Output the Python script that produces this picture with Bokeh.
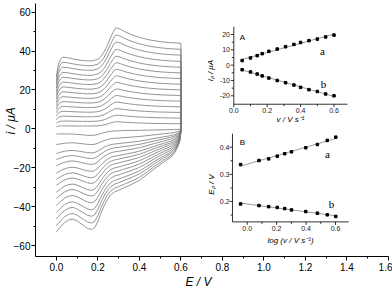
import numpy as np
from bokeh.plotting import figure
from bokeh.models import Range1d, FixedTicker, NumeralTickFormatter, Title
from bokeh.core.properties import value
from bokeh.embed import file_html
from bokeh.resources import INLINE

# ------------------------------------------------------------------ data
# Main CV: anodic branch potentials (V) and read shape of the branch
E_up = [0.000, 0.005, 0.010, 0.020, 0.030, 0.050, 0.075, 0.100, 0.125, 0.150,
        0.175, 0.200, 0.215, 0.230, 0.245, 0.260, 0.275, 0.285, 0.295, 0.310,
        0.330, 0.355, 0.380, 0.400, 0.430, 0.460, 0.500, 0.550, 0.600]
base_up = [0.72, 0.83, 0.90, 0.97, 1.00, 0.995, 0.98, 0.965, 0.955, 0.948,
           0.945, 0.945, 0.945, 0.945, 0.945, 0.945, 0.945, 0.945, 0.945, 0.945,
           0.945, 0.945, 0.945, 0.945, 0.945, 0.945, 0.945, 0.945, 0.945]
wave_up = [0, 0, 0, 0, 0, 0, 0, 0, 0, 0,
           0.01, 0.06, 0.14, 0.28, 0.47, 0.70, 0.90, 1.00, 1.00, 0.96,
           0.89, 0.82, 0.76, 0.72, 0.67, 0.63, 0.59, 0.56, 0.54]
# cathodic branch potentials (V) and read shape of the branch
E_lo = [0.600, 0.595, 0.585, 0.570, 0.550, 0.515, 0.475, 0.435, 0.400, 0.355,
        0.330, 0.300, 0.280, 0.260, 0.245, 0.230, 0.215, 0.200, 0.185, 0.170,
        0.150, 0.130, 0.100, 0.080, 0.060, 0.040, 0.020, 0.010, 0.000]
base_lo = [0.05, 0.20, 0.30, 0.40, 0.48, 0.56, 0.66, 0.77, 0.86, 0.94,
           0.97, 1.00, 1.00, 1.00, 1.00, 1.00, 1.00, 1.00, 1.00, 1.00,
           1.00, 1.00, 1.00, 1.01, 1.05, 1.12, 1.22, 1.27, 1.32]
wave_lo = [0, 0, 0, 0, 0, 0, 0, 0, 0, 0,
           0.01, 0.04, 0.08, 0.16, 0.27, 0.42, 0.60, 0.80, 0.95, 1.00,
           0.97, 0.90, 0.79, 0.73, 0.69, 0.65, 0.61, 0.60, 0.59]
# per-scan values (µA)
up_plateau = [1.5, 4.0, 6.5, 9.0, 11.5, 14.0, 16.5, 19.0, 21.5, 24.0, 26.5, 29.0, 31.7, 34.2, 36.8]
up_peak = [2.2, 3.2, 4.2, 5.2, 6.2, 7.2, 8.2, 9.2, 10.2, 11.2, 12.2, 13.4, 14.6, 15.8, 17.0]
lo_base = [0.9, 4.6, 7.4, 9.3, 11.3, 13.4, 15.2, 17.1, 19.1, 21.1, 23.1, 25.2, 27.0, 29.0, 30.8]
lo_peak = [2.5, 3.5, 5.0, 6.0, 7.0, 8.5, 10.0, 11.0, 12.5, 13.5, 15.0, 16.5, 18.0, 19.5, 21.0]

# Inset A: peak currents vs scan rate
v_A = [0.05, 0.10, 0.14, 0.17, 0.21, 0.26, 0.31, 0.36, 0.40, 0.45, 0.50, 0.55, 0.60]
ipa = [3.0, 4.7, 6.2, 7.5, 9.0, 10.5, 12.0, 13.5, 14.8, 16.0, 17.0, 18.4, 19.6]
ipc = [-3.0, -4.4, -5.8, -7.0, -8.4, -10.0, -11.5, -13.0, -14.5, -16.0, -17.2, -18.8, -20.0]
# Inset B: peak potentials vs log scan rate
logv = [-0.045, 0.080, 0.146, 0.204, 0.255, 0.301, 0.398, 0.477, 0.544, 0.602]
Epa = [0.336, 0.351, 0.357, 0.367, 0.376, 0.383, 0.398, 0.410, 0.425, 0.437]
Epc = [0.191, 0.185, 0.181, 0.178, 0.174, 0.169, 0.163, 0.157, 0.151, 0.145]

# tick values
main_xticks = [0.0, 0.2, 0.4, 0.6, 0.8, 1.0, 1.2, 1.4, 1.6]
main_xminor = [0.1, 0.3, 0.5, 0.7, 0.9, 1.1, 1.3, 1.5]
main_yticks = [-60, -40, -20, 0, 20, 40, 60]
main_yminor = [-50, -30, -10, 10, 30, 50]
A_xticks = [0.0, 0.2, 0.4, 0.6]
A_xminor = [0.1, 0.3, 0.5]
A_yticks = [-20, -10, 0, 10, 20]
A_yminor = [-15, -5, 5, 15]
B_xticks = [0.0, 0.2, 0.4, 0.6]
B_xminor = [0.1, 0.3, 0.5]
B_yticks = [0.2, 0.3, 0.4]
B_yminor = [0.15, 0.25, 0.35]

# ------------------------------------------------------------------ layout (page pixels)
FONT = "Liberation Sans"
W, H = 392, 288
FR_L, FR_R, FR_T, FR_B = 35, 388, 3, 256

def rng(v0, p0, v1, p1, lo_px, hi_px):
    s = (p1 - p0) / (v1 - v0)
    return Range1d(v0 + (lo_px - p0) / s, v0 + (hi_px - p0) / s)

def val(v0, p0, v1, p1, px):
    return v0 + (px - p0) * (v1 - v0) / (p1 - p0)

MX = (0.0, 55.9, 1.6, 388.0)
MY = (0, 128.3, -60, 245.0)
AX = (0.0, 233.3, 0.6, 333.5)
AY = (20, 34.0, -20, 95.3)
BX = (0.0, 246.7, 0.6, 335.0)
BY = (0.4, 146.7, 0.2, 201.0)

p = figure(width=W, height=H, output_backend="svg", toolbar_location=None,
           x_range=rng(*MX, FR_L, FR_R), y_range=rng(*MY, FR_B, FR_T),
           min_border_left=FR_L, min_border_right=W - FR_R,
           min_border_top=FR_T, min_border_bottom=H - FR_B)
p.extra_x_ranges = {"ax": rng(*AX, FR_L, FR_R), "bx": rng(*BX, FR_L, FR_R)}
p.extra_y_ranges = {"ay": rng(*AY, FR_B, FR_T), "by": rng(*BY, FR_B, FR_T)}
p.grid.visible = False
p.outline_line_color = None
p.background_fill_color = "white"

for ax, ticks, minor in ((p.xaxis[0], main_xticks, main_xminor), (p.yaxis[0], main_yticks, main_yminor)):
    ax.ticker = FixedTicker(ticks=ticks, minor_ticks=minor)
    ax.axis_line_color = "black"
    ax.axis_line_width = 1
    ax.major_tick_in = 0
    ax.major_tick_out = 4
    ax.minor_tick_in = 0
    ax.minor_tick_out = 2
    ax.major_label_standoff = 2
    ax.major_label_text_font = FONT
    ax.major_label_text_font_size = "10px"
    ax.major_label_text_color = "black"
p.yaxis[0].major_label_standoff = 1
p.xaxis[0].formatter = NumeralTickFormatter(format="0.0")

# axis titles (as side titles so they can sit off-centre like the original)
p.add_layout(Title(text="E / V", align="left", offset=150, standoff=-2, text_font=FONT,
                   text_font_size="12px", text_font_style="italic", text_color="black"), "below")
p.add_layout(Title(text="i / μA", align="left", offset=122, standoff=-14, text_font=FONT,
                   text_font_size="12px", text_font_style="italic", text_color="black"), "left")

# ------------------------------------------------------------------ CV curves
E_cv = E_up + E_lo
for k in range(len(up_plateau)):
    i_up = [up_plateau[k] * b + up_peak[k] * w for b, w in zip(base_up, wave_up)]
    i_lo = [-lo_base[k] * b - lo_peak[k] * w for b, w in zip(base_lo, wave_lo)]
    p.line(E_cv, i_up + i_lo, line_color="#7a7a7a", line_width=0.8)

# ------------------------------------------------------------------ insets
def inset(xr, yr, X, Y, xlim, ylim, xt, xm, yt, ym, ylabfmt, x_lab_px, y_lab_py, xs, ys_list):
    kw = dict(x_range_name=xr, y_range_name=yr)
    for ys in ys_list:
        m, c = np.polyfit(xs, ys, 1)
        p.line([xs[0], xs[-1]], [m * xs[0] + c, m * xs[-1] + c], line_color="#9a9a9a", line_width=1, **kw)
        p.scatter(xs, ys, marker="square", size=2.5, fill_color="black", line_color="black", **kw)
    p.line([xlim[0], xlim[1]], [ylim[0], ylim[0]], line_color="black", line_width=0.8, **kw)
    p.line([xlim[0], xlim[0]], [ylim[0], ylim[1]], line_color="black", line_width=0.8, **kw)
    p.ray(x=xt, y=[ylim[0]] * len(xt), length=3, length_units="screen", angle=-np.pi / 2,
          line_color="black", line_width=0.8, **kw)
    p.ray(x=xm, y=[ylim[0]] * len(xm), length=2, length_units="screen", angle=-np.pi / 2,
          line_color="black", line_width=0.8, **kw)
    p.ray(x=[xlim[0]] * len(yt), y=yt, length=3, length_units="screen", angle=np.pi,
          line_color="black", line_width=0.8, **kw)
    p.ray(x=[xlim[0]] * len(ym), y=ym, length=2, length_units="screen", angle=np.pi,
          line_color="black", line_width=0.8, **kw)
    p.text(x=xt, y=[val(*Y, x_lab_px)] * len(xt), text=["%.1f" % t for t in xt],
           text_align="center", text_baseline="middle", text_font=value(FONT),
           text_font_size=value("7px"), text_color="#222222", **kw)
    p.text(x=[val(*X, y_lab_py)] * len(yt), y=yt, text=[ylabfmt % t for t in yt],
           text_align="right", text_baseline="middle", text_font=value(FONT),
           text_font_size=value("7px"), text_color="#222222", **kw)

inset("ax", "ay", AX, AY, (0.0, 0.68), (-25.5, 25.0), A_xticks, A_xminor, A_yticks, A_yminor,
      "%d", 109.5, 229.5, v_A, [ipa, ipc])
inset("bx", "by", BX, BY, (-0.1, 0.69), (0.125, 0.45), B_xticks, B_xminor, B_yticks, B_yminor,
      "%.1f", 228.0, 229.0, logv, [Epa, Epc])

def tx(xr, yr, X, Y, px, py, s, size, font=FONT, style="normal", angle=0.0):
    p.text(x=[val(*X, px)], y=[val(*Y, py)], text=[s], angle=angle, text_align="center",
           text_baseline="middle", text_font=value(font), text_font_size=value(size),
           text_font_style=style, text_color="black", x_range_name=xr, y_range_name=yr)

tx("ax", "ay", AX, AY, 242, 37, "A", "8px")
tx("ax", "ay", AX, AY, 322, 50, "a", "11px", font="Liberation Serif")
tx("ax", "ay", AX, AY, 323, 83, "b", "11px", font="Liberation Serif")
tx("ax", "ay", AX, AY, 290, 119, "v / V s⁻¹", "8px", style="italic")
tx("ax", "ay", AX, AY, 210, 70, "iₚ / μA", "8px", style="italic", angle=np.pi / 2)
tx("bx", "by", BX, BY, 242, 142, "B", "8px")
tx("bx", "by", BX, BY, 327, 153, "a", "11px", font="Liberation Serif")
tx("bx", "by", BX, BY, 331, 203, "b", "11px", font="Liberation Serif")
tx("bx", "by", BX, BY, 290, 240, "log (v / V s⁻¹)", "8px", style="italic")
tx("bx", "by", BX, BY, 211, 184, "Eₚ / V", "8px", style="italic", angle=np.pi / 2)

open("out.html", "w").write(file_html(p, INLINE))
